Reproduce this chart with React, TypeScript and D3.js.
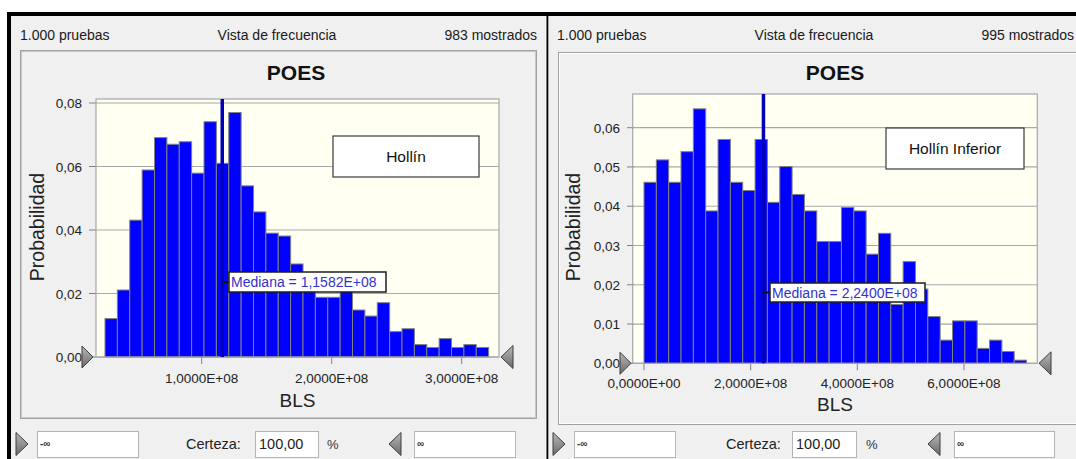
import React from 'react';
import * as d3 from 'd3';

// ---------------- data ----------------
const leftProbs = [0.0121, 0.0211, 0.0431, 0.0589, 0.0691, 0.0670, 0.0678, 0.0579, 0.0741, 0.0610, 0.0770, 0.0539, 0.0457, 0.0390, 0.0381, 0.0293, 0.0250, 0.0188, 0.0188, 0.0220, 0.0148, 0.0129, 0.0171, 0.0080, 0.0089, 0.0039, 0.0030, 0.0058, 0.0030, 0.0039, 0.0030];
const rightProbs = [0.0461, 0.0518, 0.0461, 0.0539, 0.0648, 0.0388, 0.0570, 0.0461, 0.0440, 0.0570, 0.0410, 0.0501, 0.0430, 0.0388, 0.0310, 0.0310, 0.0397, 0.0388, 0.0278, 0.0331, 0.0150, 0.0259, 0.0189, 0.0119, 0.0059, 0.0108, 0.0108, 0.0038, 0.0059, 0.0030, 0.0008];
const leftBinStart = 2.562e7;
const leftBinWidth = 9.52e6;
const rightBinStart = 0;
const rightBinWidth = 2.314e7;
const leftMedian = 1.1582e8;
const rightMedian = 2.24e8;
const leftYTicks = [0, 0.02, 0.04, 0.06, 0.08];
const rightYTicks = [0, 0.01, 0.02, 0.03, 0.04, 0.05, 0.06];
const leftXTicks = [1e8, 2e8, 3e8];
const rightXTicks = [0, 2e8, 4e8, 6e8];
const leftShown = '983 mostrados';
const rightShown = '995 mostrados';
const trialsText = '1.000 pruebas';
const viewText = 'Vista de frecuencia';
const titleText = 'POES';
const xLabel = 'BLS';
const yLabel = 'Probabilidad';
const leftLegend = 'Hollín';
const rightLegend = 'Hollín Inferior';
const certaintyLabel = 'Certeza:';
const certaintyValue = '100,00';

// ---------------- helpers ----------------
const fmtSci = (v: number) => {
  if (v === 0) return '0,0000E+00';
  const e = Math.floor(Math.log10(Math.abs(v)));
  const m = v / Math.pow(10, e);
  return `${m.toFixed(4).replace('.', ',')}E${e >= 0 ? '+' : '-'}${String(Math.abs(e)).padStart(2, '0')}`;
};
const fmtProb = (v: number) => v.toFixed(2).replace('.', ',');

const FONT = 'Liberation Sans, Arial, Helvetica, sans-serif';

type Layout = {
  px0: number; px1: number; pTop: number; pBottom: number;
  xDomain: [number, number]; yMax: number; yMaxPix: number;
  yTickRight: number; yTickLen: number; yLabelX: number;
  xTickLabelY: number; xTitleY: number;
  legend: [number, number, number, number];
  medBox: [number, number, number, number];
  header: [number, number, number];
  titleX: number;
  triL: number; triR: number;
  frame: { x: number; y: number; w: number; h: number; dotted: boolean };
  ctrl: { tri1: number; box1: [number, number]; cert: number; box2: [number, number]; pct: number; tri2: number; box3: [number, number] };
};

function Triangle({ x, cy, w, h, dir }: { x: number; cy: number; w: number; h: number; dir: 'r' | 'l' }) {
  const pts = dir === 'r'
    ? `${x},${cy - h / 2} ${x + w},${cy} ${x},${cy + h / 2}`
    : `${x + w},${cy - h / 2} ${x},${cy} ${x + w},${cy + h / 2}`;
  return <polygon points={pts} fill="url(#triGrad)" stroke="#3c3c3c" strokeWidth={1} strokeLinejoin="round" />;
}

function Panel({ probs, binStart, binWidth, median, yTicks, xTicks, shown, legend, L }: any) {
  const lay: Layout = L;
  const x = d3.scaleLinear().domain(lay.xDomain).range([lay.px0, lay.px1]);
  const y = d3.scaleLinear().domain([0, lay.yMax]).range([lay.pBottom, lay.yMaxPix]);
  const mx = x(median);
  const [mbx0, mbx1, mby0, mby1] = lay.medBox;
  const [lgx0, lgx1, lgy0, lgy1] = lay.legend;
  const c = lay.ctrl;
  const boxY0 = 431, boxY1 = 457, ctrlCy = 444;
  return (
    <g>
      {/* frame */}
      {lay.frame.dotted ? (
        <g>
          <rect x={lay.frame.x + 0.5} y={lay.frame.y + 0.5} width={lay.frame.w} height={lay.frame.h}
            fill="none" stroke="#555" strokeWidth={1} strokeDasharray="1,1" />
          <rect x={lay.frame.x + 1.5} y={lay.frame.y + 1.5} width={lay.frame.w - 2} height={lay.frame.h - 2}
            fill="none" stroke="#a0a0a0" strokeWidth={1} strokeDasharray="1,1" strokeDashoffset={1} />
        </g>
      ) : (
        <g>
          <rect x={lay.frame.x + 0.5} y={lay.frame.y + 0.5} width={lay.frame.w} height={lay.frame.h} fill="none" stroke="#a0a0a0" strokeWidth={1} />
          <rect x={lay.frame.x + 1.5} y={lay.frame.y + 1.5} width={lay.frame.w - 2} height={lay.frame.h - 2} fill="none" stroke="#ffffff" strokeWidth={1} />
        </g>
      )}
      {/* header */}
      <text x={lay.header[0]} y={40} fontSize={14} fontFamily={FONT} fill="#1a1a1a">{trialsText}</text>
      <text x={lay.header[1]} y={40} fontSize={14} fontFamily={FONT} fill="#1a1a1a" textAnchor="middle">{viewText}</text>
      <text x={lay.header[2]} y={40} fontSize={14} fontFamily={FONT} fill="#1a1a1a" textAnchor="end">{shown}</text>
      {/* title */}
      <text x={lay.titleX} y={79.5} fontSize={21} fontWeight="bold" fontFamily={FONT} fill="#111" textAnchor="middle">{titleText}</text>
      {/* plot background */}
      <rect x={lay.px0} y={lay.pTop} width={lay.px1 - lay.px0} height={lay.pBottom - lay.pTop} fill="#fffff2" />
      {/* grid */}
      {yTicks.map((t: number) => (
        <line key={'g' + t} x1={lay.px0} x2={lay.px1} y1={y(t)} y2={y(t)} stroke="#a8a8a8" strokeWidth={1.2} />
      ))}
      {/* y ticks */}
      {yTicks.map((t: number) => (
        <g key={'yt' + t}>
          <line x1={lay.yTickRight + 7} x2={lay.yTickRight + 7 + lay.yTickLen} y1={y(t)} y2={y(t)} stroke="#808080" strokeWidth={1} />
          <text x={lay.yTickRight} y={y(t) + 5} fontSize={13.5} fontFamily={FONT} fill="#222" textAnchor="end">{fmtProb(t)}</text>
        </g>
      ))}
      {/* x ticks */}
      {xTicks.map((t: number) => (
        <g key={'xt' + t}>
          <line x1={x(t)} x2={x(t)} y1={lay.pBottom} y2={lay.pBottom + 7} stroke="#808080" strokeWidth={1} />
          <text x={x(t)} y={lay.xTickLabelY} fontSize={13.5} fontFamily={FONT} fill="#222" textAnchor="middle">{fmtSci(t)}</text>
        </g>
      ))}
      {/* bars */}
      {probs.map((p: number, i: number) => {
        const a = x(binStart + i * binWidth);
        const b = x(binStart + (i + 1) * binWidth);
        return <rect key={'b' + i} x={a} y={y(p)} width={b - a} height={y(0) - y(p)} fill="#0000ff" stroke="#808080" strokeWidth={1} />;
      })}
      {/* plot border */}
      <rect x={lay.px0} y={lay.pTop} width={lay.px1 - lay.px0} height={lay.pBottom - lay.pTop} fill="none" stroke="#a8a8a8" strokeWidth={1.2} />
      {/* median line */}
      <line x1={mx} x2={mx} y1={lay.pTop} y2={lay.pBottom} stroke="#0000b8" strokeWidth={3.5} />
      {/* median label */}
      <line x1={mx} x2={mbx0} y1={(mby0 + mby1) / 2} y2={(mby0 + mby1) / 2} stroke="#111" strokeWidth={2} />
      <rect x={mbx0} y={mby0} width={mbx1 - mbx0} height={mby1 - mby0} fill="#ffffff" stroke="#1e1e1e" strokeWidth={1.5} />
      <text x={mbx0 + 2} y={(mby0 + mby1) / 2 + 5} fontSize={14} fontFamily={FONT} fill="#3232c8">{`Mediana = ${fmtSci(median)}`}</text>
      {/* legend */}
      <rect x={lgx0} y={lgy0} width={lgx1 - lgx0} height={lgy1 - lgy0} fill="#ffffff" stroke="#3a3a3a" strokeWidth={1.2} />
      <text x={(lgx0 + lgx1) / 2} y={(lgy0 + lgy1) / 2 + 5.5} fontSize={15.5} fontFamily={FONT} fill="#111" textAnchor="middle">{legend}</text>
      {/* axis titles */}
      <text x={(lay.px0 + lay.px1) / 2} y={lay.xTitleY} fontSize={19} fontFamily={FONT} fill="#222" textAnchor="middle">{xLabel}</text>
      <text transform={`translate(${lay.yLabelX},227) rotate(-90)`} fontSize={19.5} fontFamily={FONT} fill="#222" textAnchor="middle">{yLabel}</text>
      {/* axis markers */}
      <Triangle x={lay.triL} cy={lay.pBottom} w={11} h={22} dir="r" />
      <Triangle x={lay.triR} cy={lay.pBottom} w={12} h={23} dir="l" />
      {/* bottom controls */}
      <Triangle x={c.tri1} cy={ctrlCy} w={12} h={23} dir="r" />
      <rect x={c.box1[0] + 0.5} y={boxY0 + 0.5} width={c.box1[1] - c.box1[0]} height={boxY1 - boxY0} fill="#fff" stroke="#b4b4b4" strokeWidth={1} />
      <text x={c.box1[0] + 3} y={ctrlCy + 3} fontSize={10} fontWeight="bold" fontFamily={FONT} fill="#333">-∞</text>
      <text x={c.cert} y={ctrlCy + 5} fontSize={14.5} fontFamily={FONT} fill="#222">{certaintyLabel}</text>
      <rect x={c.box2[0] + 0.5} y={boxY0 + 0.5} width={c.box2[1] - c.box2[0]} height={boxY1 - boxY0} fill="#fff" stroke="#b4b4b4" strokeWidth={1} />
      <text x={c.box2[0] + 4} y={ctrlCy + 5} fontSize={14.5} fontFamily={FONT} fill="#222">{certaintyValue}</text>
      <text x={c.pct} y={ctrlCy + 5} fontSize={13} fontFamily={FONT} fill="#333">%</text>
      <Triangle x={c.tri2} cy={ctrlCy} w={12} h={23} dir="l" />
      <rect x={c.box3[0] + 0.5} y={boxY0 + 0.5} width={c.box3[1] - c.box3[0]} height={boxY1 - boxY0} fill="#fff" stroke="#b4b4b4" strokeWidth={1} />
      <text x={c.box3[0] + 3} y={ctrlCy + 3} fontSize={10} fontWeight="bold" fontFamily={FONT} fill="#333">∞</text>
    </g>
  );
}

const leftLayout: Layout = {
  px0: 96, px1: 499, pTop: 99, pBottom: 357,
  xDomain: [0.187e8, 3.287e8], yMax: 0.08, yMaxPix: 103,
  yTickRight: 82, yTickLen: 7, yLabelX: 44,
  xTickLabelY: 383, xTitleY: 407,
  legend: [333, 479, 136, 177],
  medBox: [229, 386, 272, 292],
  header: [20, 277, 537],
  titleX: 296,
  triL: 82, triR: 501,
  frame: { x: 20, y: 50, w: 516, h: 368, dotted: true },
  ctrl: { tri1: 16, box1: [37, 138], cert: 186, box2: [255, 318], pct: 327, tri2: 389, box3: [414, 515] },
};

const rightLayout: Layout = {
  px0: 632.7, px1: 1037.3, pTop: 94, pBottom: 363.3,
  xDomain: [-0.212e8, 7.375e8], yMax: 0.06, yMaxPix: 127.7,
  yTickRight: 620, yTickLen: 7, yLabelX: 580,
  xTickLabelY: 388, xTitleY: 411,
  legend: [886, 1024, 128, 169],
  medBox: [770, 925, 283, 302],
  header: [557, 814, 1074],
  titleX: 835,
  triL: 620, triR: 1039,
  frame: { x: 558, y: 52, w: 530, h: 372, dotted: false },
  ctrl: { tri1: 553, box1: [574, 675], cert: 726, box2: [792, 856], pct: 866, tri2: 928, box3: [954, 1054] },
};

export default function App() {
  return (
    <svg width={1076} height={459} style={{ position: 'absolute', left: 0, top: 0, display: 'block' }}>
      <defs>
        <linearGradient id="triGrad" x1="0" y1="0" x2="0" y2="1">
          <stop offset="0" stopColor="#b8b8b8" />
          <stop offset="1" stopColor="#6a6a6a" />
        </linearGradient>
      </defs>
      <rect x={0} y={0} width={1076} height={459} fill="#ffffff" />
      <rect x={7} y={12} width={1069} height={447} fill="#000000" />
      <rect x={11} y={16} width={1065} height={443} fill="#f0f0f0" />
      <rect x={546.5} y={16} width={1.8} height={443} fill="#000000" />
      <Panel probs={leftProbs} binStart={leftBinStart} binWidth={leftBinWidth} median={leftMedian}
        yTicks={leftYTicks} xTicks={leftXTicks} shown={leftShown} legend={leftLegend} L={leftLayout} />
      <Panel probs={rightProbs} binStart={rightBinStart} binWidth={rightBinWidth} median={rightMedian}
        yTicks={rightYTicks} xTicks={rightXTicks} shown={rightShown} legend={rightLegend} L={rightLayout} />
    </svg>
  );
}
